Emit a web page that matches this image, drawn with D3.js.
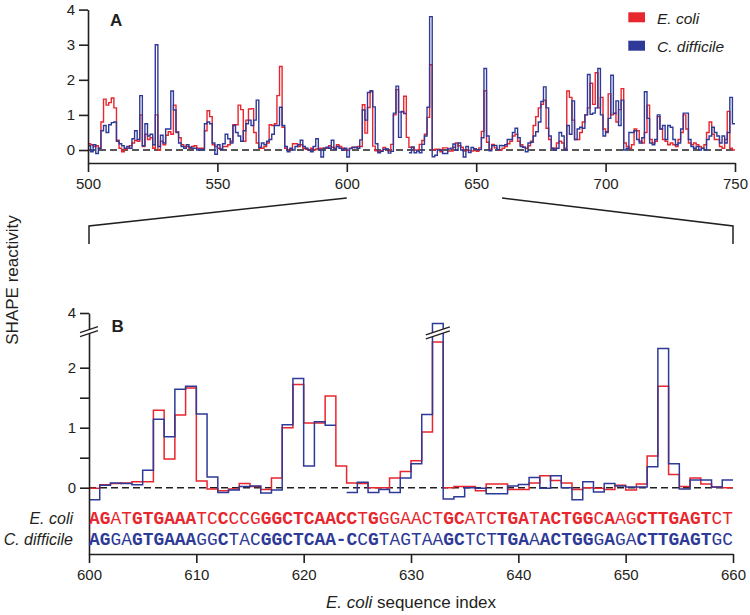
<!DOCTYPE html>
<html><head><meta charset="utf-8">
<script src="https://cdn.jsdelivr.net/npm/d3@7"></script>
<style>
body{margin:0;background:#fff}
svg{display:block}
text{font-family:"Liberation Sans",Arial,sans-serif}
</style>
</head><body>
<svg id="c" width="750" height="615"></svg>
<script>
// ---------------- data ----------------
const seqStart = 500; // first E. coli index in the arrays
// E. coli SHAPE reactivity, positions 500..749
const ecoli = [
 0.18,0.15,0.1,0.12,0.05,0.8,1.45,1.28,1.35,1.48,
 1.2,0.28,0.05,-0.05,0.02,0.05,0.12,0.2,0.28,0.25,
 1.0,0.1,0.45,0.3,0.35,0.05,1.0,0.0,0.25,0.15,
 0.42,0.52,0.45,1.28,0.52,0.35,0.15,0.1,0.1,0.05,
 0.1,0.12,0.05,0.05,0.05,0.55,1.12,0.95,0.15,0.1,
 0.05,0.02,0.1,0.1,0.15,0.25,0.72,0.72,1.28,1.15,
 0.25,0.85,1.17,1.18,0.5,0.2,0.05,0.05,0.1,0.2,
 0.72,0.7,0.75,1.55,2.38,0.65,0.05,0.0,0.02,0.18,
 0.18,0.1,0.15,0.05,0.02,0.0,0.05,0.0,0.03,0.05,
 0.05,0.05,0.05,0.12,0.08,0.05,0.15,0.1,0.05,0.0,
 -0.01,0.05,0.07,0.08,0.1,0.1,1.29,0.48,1.21,1.66,
 0.11,-0.02,-0.05,-0.02,0.07,0.02,-0.03,0.16,1.0,1.72,
 1.08,1.08,1.53,0.36,0.08,0.07,0.0,0.0,0.16,0.27,
 0.45,0.93,2.43,0.0,0.02,0.02,-0.05,0.06,0.06,-0.03,
 -0.03,0.08,0.2,0.12,0.08,-0.03,0.0,-0.01,-0.03,0.04,
 -0.04,0.06,0.53,1.69,0.22,0.02,0.16,0.06,0.01,0.0,
 0.05,0.1,0.18,0.25,0.4,0.45,0.25,0.15,0.08,0.05,
 0.12,0.25,0.7,0.95,1.2,1.3,1.42,0.62,0.3,0.05,
 0.05,0.2,0.25,0.2,0.05,1.68,1.5,0.85,0.3,0.3,
 0.5,0.8,1.0,1.2,1.9,1.3,2.2,1.2,1.5,0.6,
 0.5,1.6,1.0,1.05,0.8,1.15,1.75,0.2,0.1,0.05,
 0.15,0.6,0.55,0.25,0.2,0.5,1.28,0.3,0.2,0.25,
 0.95,0.6,0.3,0.25,0.15,0.2,0.15,0.1,0.3,0.5,
 1.0,0.6,0.2,0.15,0.2,0.15,0.1,0.05,0.15,0.5,
 0.8,0.45,0.3,0.3,0.1,0.05,0.3,1.1,0.05,0.0
];
// C. difficile SHAPE reactivity aligned to E. coli positions 500..749 (null = gap)
const cdiff = [
 0.12,-0.05,0.15,-0.1,0.05,0.55,0.7,0.5,0.72,0.78,
 0.8,0.25,0.18,0.12,0.05,0.1,0.05,0.32,0.55,0.3,
 1.55,0.12,0.75,0.4,0.45,0.15,3.0,0.1,0.42,0.2,
 0.6,0.6,1.68,1.14,0.5,0.2,0.1,0.05,0.15,0.08,
 0.05,0.05,0.0,0.02,0.0,0.75,0.8,0.75,0.2,-0.12,
 0.15,0.02,0.18,0.45,0.32,0.2,0.7,0.5,0.4,0.25,
 0.55,0.75,0.85,0.7,0.85,1.42,0.08,0.2,0.15,0.25,
 0.3,0.45,0.7,0.7,1.22,0.7,0.1,-0.05,0.05,0.0,
 0.1,0.15,0.28,0.1,0.05,0.0,-0.05,0.1,0.32,0.0,
 -0.2,0.05,0.08,0.05,0.28,0.02,0.1,0.05,0.0,0.05,
 -0.2,0.04,0.08,0.07,0.05,0.29,1.14,0.85,1.64,1.69,
 1.23,0.18,-0.08,-0.04,0.02,0.03,-0.09,-0.04,1.05,1.82,
 0.36,1.1,1.04,null,-0.08,0.09,-0.08,-0.03,-0.08,0.16,
 0.4,1.22,3.8,-0.19,-0.15,0.0,-0.01,-0.1,-0.1,0.03,
 0.055,0.17,-0.01,0.2,0.0,-0.2,0.1,-0.07,0.07,0.03,
 0.01,0.01,0.35,2.32,0.4,-0.02,0.13,0.13,0.01,0.13,
 0.12,0.15,0.3,0.3,0.5,0.62,0.35,0.1,0.08,-0.05,
 0.2,0.22,0.4,0.52,0.8,1.38,1.8,1.2,0.4,0.05,
 0.0,0.05,0.5,0.4,0.0,0.7,0.45,1.4,0.3,0.6,
 0.65,0.62,1.0,2.15,1.02,1.05,1.2,2.32,1.0,0.4,
 0.52,0.9,2.13,1.04,1.4,0.7,1.42,0.0,0.05,0.5,
 0.5,0.55,0.3,0.2,0.35,1.66,0.9,0.2,0.15,0.3,
 1.0,0.6,0.7,0.3,0.7,0.65,0.3,0.15,0.2,0.6,
 1.05,1.05,0.3,0.1,0.05,0.1,0.0,0.05,0.0,0.3,
 0.4,0.65,0.5,0.4,0.2,0.4,0.2,0.5,1.5,0.75
];
const seriesNames = ["E. coli", "C. difficile"];
const rangeA = [500, 750];
const rangeB = [600, 660];
const xTicksA = [500, 550, 600, 650, 700, 750];
const yTicksA = [0, 1, 2, 3, 4];
const xTicksB = [600, 610, 620, 630, 640, 650, 660];
const yTicksB = [0, 0.5, 1, 1.5, 2, 4];
const seqEcoli = "AGATGTGAAATCCCCGGGCTCAACCTGGGAACTGCATCTGATACTGGCAAGCTTGAGTCT";
const seqCdiff = "AGGAGTGAAAGGCTACGGCTCAA-CCGTAGTAAGCTCTTGAAACTGGGAGACTTGAGTGC";
// 1 = conserved (bold) position
const boldMask = "110011111100100011111111101000000110001110111110100111111100";

// ---------------- drawing ----------------
const ink = "#231f20", red = "#e8262d", blue = "#2e3a97";
const svg = d3.select("#c");

const xA = d3.scaleLinear().domain(rangeA).range([88, 735]);
const yA = d3.scaleLinear().domain([-0.37, 4]).range([163, 9.6]);
const xB = d3.scaleLinear().domain(rangeB).range([89, 733]);
const yB = d3.scaleLinear().domain([-1.105, 0, 2.6, 3.7, 4]).range([554, 487.7, 331.7, 328.6, 313]);

function stepPoints(vals, lo, hi) {
  const pts = [];
  for (let i = 0; i < vals.length; i++) {
    const p = seqStart + i;
    if (p < lo || p >= hi) continue;
    const v = vals[i];
    if (v == null) { pts.push({p, v: null}); continue; }
    pts.push({p, v});
    const nxt = (p + 1 < hi && i + 1 < vals.length) ? vals[i + 1] : null;
    if (nxt == null) pts.push({p: p + 1, v});
  }
  return pts;
}

function styleAxis(g, fs) {
  g.attr("font-family", null).attr("font-size", null);
  g.selectAll(".domain").attr("stroke", ink).attr("stroke-width", 1.6);
  g.selectAll(".tick line").attr("stroke", ink).attr("stroke-width", 1.6);
  g.selectAll(".tick text").attr("fill", ink).style("font-size", fs + "px")
    .style("font-family", '"Liberation Sans",Arial,sans-serif');
}

function panel(x, y, xr, xt, yt, yfmt, lw) {
  const g = svg.append("g");
  g.append("line").attr("x1", x(xr[0])).attr("x2", x(xr[1]))
    .attr("y1", y(0)).attr("y2", y(0))
    .attr("stroke", ink).attr("stroke-width", 1.5).attr("stroke-dasharray", "7,4");
  const line = d3.line().defined(d => d.v != null)
    .x(d => x(d.p)).y(d => y(d.v)).curve(d3.curveStepAfter);
  g.append("path").attr("d", line(stepPoints(ecoli, xr[0], xr[1])))
    .attr("fill", "none").attr("stroke", red).attr("stroke-width", lw);
  g.append("path").attr("d", line(stepPoints(cdiff, xr[0], xr[1])))
    .attr("fill", "none").attr("stroke", blue).attr("stroke-width", lw);
  const gx = g.append("g").attr("transform", `translate(0,${y.range()[0]})`)
    .call(d3.axisBottom(x).tickValues(xt).tickSize(9).tickPadding(6).tickSizeOuter(0));
  styleAxis(gx, 15);
  const gy = g.append("g").attr("transform", `translate(${x.range()[0]},0)`)
    .call(d3.axisLeft(y).tickValues(yt).tickFormat(yfmt).tickSize(9).tickPadding(4).tickSizeOuter(0));
  styleAxis(gy, 15);
  return g;
}

panel(xA, yA, rangeA, xTicksA, yTicksA, d3.format("d"), 1.4);
const gB = panel(xB, yB, rangeB, xTicksB, yTicksB, d => Number.isInteger(d) ? d : "", 1.5);

// axis break marks (panel B)
function breakMark(cx, cy, w) {
  const dx = w / 2, dy = w * 0.17, gap = 4;
  gB.append("path")
    .attr("d", `M${cx-dx},${cy+dy-gap/2}L${cx+dx},${cy-dy-gap/2}L${cx+dx},${cy-dy+gap/2}L${cx-dx},${cy+dy+gap/2}Z`)
    .attr("fill", "#fff");
  [-gap/2, gap/2].forEach(o => gB.append("line")
    .attr("x1", cx - dx).attr("y1", cy + dy + o).attr("x2", cx + dx).attr("y2", cy - dy + o)
    .attr("stroke", ink).attr("stroke-width", 1.3));
}
breakMark(xB(600) , yB(2.64), 18);
breakMark(xB(632.5), yB(2.58), 24);

// sequences
const rows = [[seqEcoli, red, 524], [seqCdiff, blue, 545]];
rows.forEach(([s, col, yy], r) => {
  svg.append("g").selectAll("text").data(s.split("")).join("text")
    .attr("x", (d, i) => xB(rangeB[0] + i + 0.5)).attr("y", yy)
    .attr("text-anchor", "middle").attr("fill", col)
    .style("font-family", '"Liberation Mono","DejaVu Sans Mono",monospace')
    .style("font-size", "17.9px")
    .style("font-weight", (d, i) => boldMask[i] === "1" ? "bold" : "normal")
    .text(d => d);
  svg.append("text").attr("x", 73).attr("y", yy).attr("text-anchor", "end")
    .attr("fill", ink).style("font-size", "16px").style("font-style", "italic")
    .text(seriesNames[r]);
});

// connectors between panels
[rangeB[0], rangeB[1]].forEach(v => {
  svg.append("path")
    .attr("d", `M${xA(v)},198L${xB(v)},226L${xB(v)},244`)
    .attr("fill", "none").attr("stroke", ink).attr("stroke-width", 1.5);
});

// panel letters
svg.append("text").attr("x", 110).attr("y", 25.5).style("font-size", "17px").style("font-weight", "bold").attr("fill", ink).text("A");
svg.append("text").attr("x", 111.5).attr("y", 331.5).style("font-size", "17px").style("font-weight", "bold").attr("fill", ink).text("B");

// legend
[[red, seriesNames[0], 12.3, 24], [blue, seriesNames[1], 40.7, 52]].forEach(([c, t, ry, ty]) => {
  svg.append("rect").attr("x", 628.3).attr("y", ry).attr("width", 16.7).attr("height", 10).attr("fill", c);
  svg.append("text").attr("x", 657).attr("y", ty).style("font-size", "15.5px").style("font-style", "italic").attr("fill", ink).text(t);
});

// axis titles
svg.append("text").attr("transform", "translate(18,280) rotate(-90)").attr("text-anchor", "middle")
  .style("font-size", "17px").attr("fill", ink).text("SHAPE reactivity");
const xt = svg.append("text").attr("x", xB(630)).attr("y", 608).attr("text-anchor", "middle")
  .style("font-size", "17px").attr("fill", ink);
xt.append("tspan").style("font-style", "italic").text("E. coli");
xt.append("tspan").text(" sequence index");
</script>
</body></html>
